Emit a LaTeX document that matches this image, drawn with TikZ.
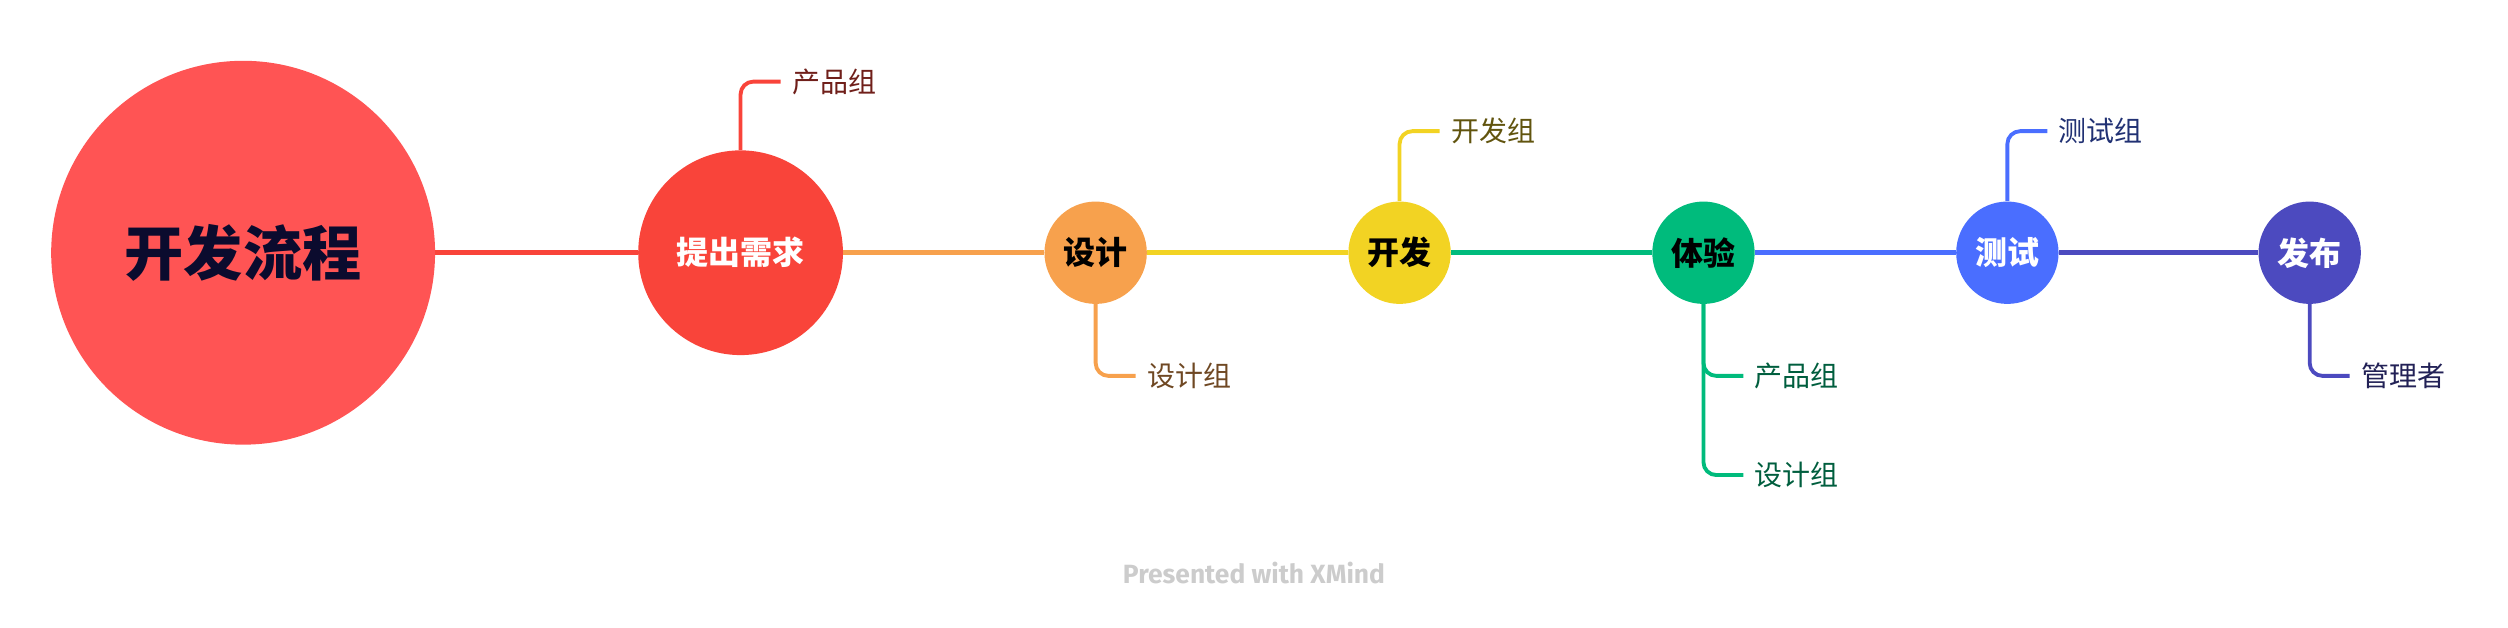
\documentclass[tikz,border=0pt]{standalone}
\usepackage{fontspec}
\setmainfont{Noto Sans CJK SC}
\newfontfamily\wmfont{Fira Sans}
\usetikzlibrary{positioning}

\definecolor{rootred}{HTML}{FF5454}
\definecolor{stred}{HTML}{F9443A}
\definecolor{storange}{HTML}{F7A14D}
\definecolor{styellow}{HTML}{F2D323}
\definecolor{stgreen}{HTML}{00BB7C}
\definecolor{stblue}{HTML}{4A6EFF}
\definecolor{stpurple}{HTML}{4C4ABF}
\definecolor{titleink}{HTML}{0B0B2E}

\begin{document}
\begin{tikzpicture}[x=1pt,y=-1pt,
  rootc/.style={circle,fill=rootred,minimum size=240pt,inner sep=0pt,
    text=titleink,font=\fontsize{37}{40}\selectfont\bfseries},
  stage/.style={circle,fill=#1,minimum size=64pt,inner sep=0pt,
    font=\fontsize{20}{22}\selectfont\bfseries},
  leaf/.style={anchor=west,inner xsep=7pt,inner ysep=0pt,
    font=\fontsize{17.5}{19}\selectfont},
  mainline/.style={#1,line width=3pt},
  branch/.style={#1,line width=2.4pt,rounded corners=8pt}]
\useasboundingbox (0,0) rectangle (1568,392);

% stages
\node[rootc] (root) at (152,158) {开发流程};
\node[stage=stred,minimum size=128pt,text=white] (tichu) at (463,158) {提出需求};
\node[stage=storange] (sheji) at (685,158) {设计};
\node[stage=styellow] (kaifa) at (875,158) {开发};
\node[stage=stgreen] (tiyan) at (1065,158) {体验};
\node[stage=stblue,text=white] (ceshi) at (1255,158) {测试};
\node[stage=stpurple,text=white] (fabu) at (1444,158) {发布};

% main line
\draw[mainline=stred] (root) -- (tichu);
\draw[mainline=storange] (tichu) -- (sheji);
\draw[mainline=styellow] (sheji) -- (kaifa);
\draw[mainline=stgreen] (kaifa) -- (tiyan);
\draw[mainline=stblue] (tiyan) -- (ceshi);
\draw[mainline=stpurple] (ceshi) -- (fabu);

% groups
\node[leaf,text=stred!45!black] (chanpin) at (488,51) {产品组};
\node[leaf,text=storange!45!black] (shejizu) at (710,235) {设计组};
\node[leaf,text=styellow!40!black] (kaifazu) at (900,82) {开发组};
\node[leaf,text=stgreen!50!black] (chanpin2) at (1090,235) {产品组};
\node[leaf,text=stgreen!50!black] (shejizu2) at (1090,297) {设计组};
\node[leaf,text=stblue!45!black] (ceshizu) at (1280,82) {测试组};
\node[leaf,text=stpurple!45!black] (guanli) at (1469,235) {管理者};

\draw[branch=stred] (tichu.north) |- (chanpin.west);
\draw[branch=storange] (sheji.south) |- (shejizu.west);
\draw[branch=styellow] (kaifa.north) |- (kaifazu.west);
\draw[branch=stgreen] (tiyan.south) |- (chanpin2.west);
\draw[branch=stgreen] (tiyan.south) |- (shejizu2.west);
\draw[branch=stblue] (ceshi.north) |- (ceshizu.west);
\draw[branch=stpurple] (fabu.south) |- (guanli.west);

\node[text=black!20,font=\wmfont\bfseries\fontsize{16.5}{18}\selectfont] (mark) at (784,358) {Presented with XMind};
\end{tikzpicture}
\end{document}
